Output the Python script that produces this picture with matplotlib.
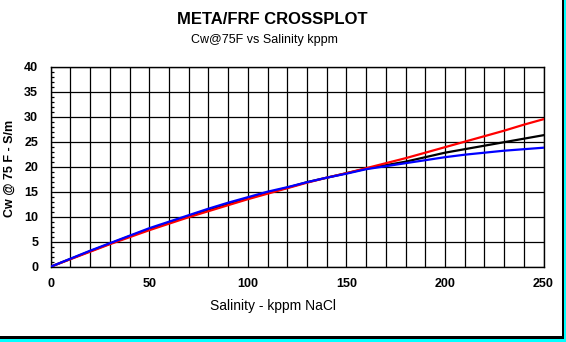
import numpy as np
import matplotlib.pyplot as plt
from matplotlib.patches import Rectangle
from matplotlib.ticker import MultipleLocator

plt.rcParams['font.family'] = ['Liberation Sans', 'DejaVu Sans']
plt.rcParams['hatch.color'] = '#30b0b0'

# salinity (kppm NaCl)
salinity = [0, 10, 20, 30, 40, 50, 60, 70, 80, 90, 100, 110, 120, 130,
            140, 150, 160, 170, 180, 190, 200, 210, 220, 230, 240, 250]
# Cw @ 75F (S/m) for the three curves
cw_black = [0, 1.55, 3.1, 4.6, 6.1, 7.5, 8.8, 10.1, 11.4, 12.6, 13.7, 14.8, 15.8,
            16.9, 17.8, 18.7, 19.6, 20.3, 21.0, 21.9, 22.8, 23.5, 24.2, 24.9, 25.6, 26.3]
cw_red = [0, 1.5, 3.0, 4.5, 5.9, 7.3, 8.6, 9.9, 11.1, 12.3, 13.5, 14.6, 15.7,
          16.8, 17.8, 18.7, 19.7, 20.7, 21.7, 22.8, 23.9, 25.0, 26.1, 27.2, 28.4, 29.5]
cw_blue = [0, 1.6, 3.2, 4.7, 6.2, 7.7, 9.0, 10.3, 11.6, 12.8, 13.9, 15.0, 15.9,
           16.9, 17.8, 18.6, 19.5, 20.1, 20.7, 21.3, 21.9, 22.4, 22.8, 23.2, 23.5, 23.8]

W, H = 566, 342
fig = plt.figure(figsize=(W / 100, H / 100), dpi=100)
ax = fig.add_axes([50.7 / W, 1 - 266.7 / H, (543.5 - 50.7) / W, 200 / H])

ax.plot(salinity, cw_black, c='black', lw=1.6, zorder=3)
ax.plot(salinity, cw_red, c='#ff0000', lw=1.6, zorder=4)
ax.plot(salinity, cw_blue, c='#0000ff', lw=1.6, zorder=5)

ax.set_xlim(0, 250)
ax.set_ylim(0, 40)
ax.xaxis.set_major_locator(MultipleLocator(50))
ax.xaxis.set_minor_locator(MultipleLocator(10))
ax.yaxis.set_major_locator(MultipleLocator(5))
ax.yaxis.set_minor_locator(MultipleLocator(1))
ax.grid(which='major', color='black', lw=0.9)
ax.grid(which='minor', axis='x', color='black', lw=0.9)
ax.tick_params(axis='both', which='major', length=0, labelsize=9, pad=8)
ax.tick_params(axis='y', which='major', pad=9)
ax.tick_params(axis='x', which='minor', length=0)
ax.tick_params(axis='y', which='minor', direction='in', length=2.5, width=0.9)
for lab in ax.get_xticklabels() + ax.get_yticklabels():
    lab.set_fontweight('bold')
for s in ax.spines.values():
    s.set_linewidth(1)

ax.set_xlabel('Salinity - kppm NaCl', fontsize=10, labelpad=7)
ax.xaxis.set_label_coords((273 - 50.7) / 492.8, -0.16)
ax.set_ylabel('Cw @ 75 F - S/m', fontsize=9, fontweight='bold')
ax.yaxis.set_label_coords(-0.071, 0.49)

fig.text(272 / W, 1 - 20 / H, 'META/FRF CROSSPLOT', ha='center', va='center',
         fontsize=12, fontweight='bold')
fig.text(264 / W, 1 - 40 / H, 'Cw@75F vs Salinity kppm', ha='center', va='center',
         fontsize=9)

# window frame: black edge with cyan strip
fig.patches.append(Rectangle((0, 0), 1, 3.5 / H, transform=fig.transFigure,
                             facecolor='#00ffff', edgecolor='none', hatch='...'))
fig.patches.append(Rectangle((564 / W, 0), 2 / W, 1, transform=fig.transFigure,
                             facecolor='#00ffff', edgecolor='none'))
fig.patches.append(Rectangle((0, 3.5 / H), 564 / W, 2.5 / H, transform=fig.transFigure,
                             facecolor='black', edgecolor='none'))
fig.patches.append(Rectangle((561.5 / W, 3.5 / H), 2.5 / W, 1, transform=fig.transFigure,
                             facecolor='black', edgecolor='none'))

fig.savefig('out.png', dpi=100)
